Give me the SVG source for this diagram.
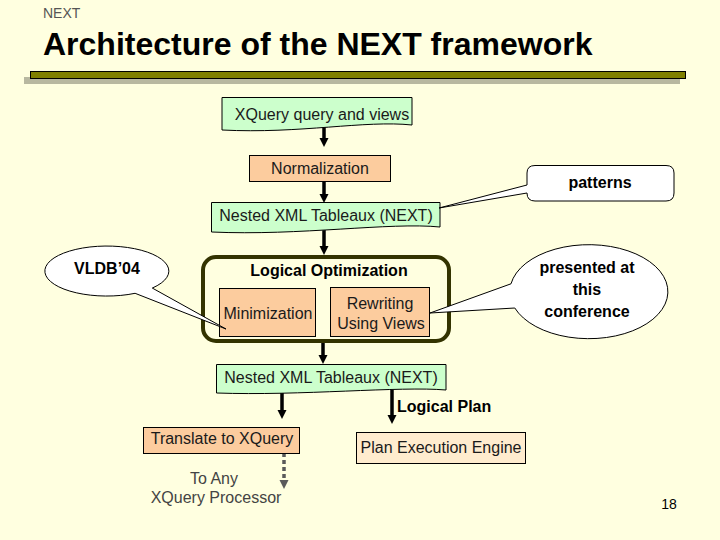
<svg xmlns="http://www.w3.org/2000/svg" width="720" height="540" viewBox="0 0 720 540">
<style>
text{font-family:"Liberation Sans",Arial,sans-serif;}
.t{font-size:16px;fill:#1a1a1a;text-anchor:middle;}
.b{font-size:16px;font-weight:bold;fill:#000;text-anchor:middle;}
.g{fill:#ccffcc;stroke:#000;stroke-width:1;}
.s{fill:#fccc9e;stroke:#000;stroke-width:1;}
.p{fill:#ffecce;stroke:#000;stroke-width:1;}
.c{fill:#fff;stroke:#000;stroke-width:1;}
.a{stroke:#000;stroke-width:3.5;fill:none;marker-end:url(#ah);}
.d{stroke:#5a5a5a;stroke-width:3.5;fill:none;stroke-dasharray:4 3;marker-end:url(#ahg);}
</style>
<defs>
<marker id="ah" markerUnits="userSpaceOnUse" viewBox="0 0 10 10" markerWidth="9" markerHeight="10" refX="0" refY="5" orient="auto"><path d="M0,0 L10,5 L0,10 Z" fill="#000"/></marker>
<marker id="ahg" markerUnits="userSpaceOnUse" viewBox="0 0 10 10" markerWidth="9" markerHeight="10" refX="0" refY="5" orient="auto"><path d="M0,0 L10,5 L0,10 Z" fill="#5a5a5a"/></marker>
</defs>
<rect width="720" height="540" fill="#ffffe0"/>
<g id="header">
<text x="43" y="18" style="font-size:14px;fill:#555">NEXT</text>
<text x="43" y="55" style="font-size:32px;font-weight:bold;fill:#000">Architecture of the NEXT framework</text>
<rect x="24" y="77" width="656" height="7" fill="#b8b8a0"/>
<rect x="30.5" y="71.5" width="655" height="7" fill="#808000" stroke="#000" stroke-width="1"/>
</g>
<g id="connectors">
<line class="a" x1="324" y1="126" x2="324" y2="138"/>
<line class="a" x1="324" y1="181" x2="324" y2="194"/>
<line class="a" x1="324" y1="230" x2="324" y2="246"/>
<line class="a" x1="323" y1="342" x2="323" y2="355"/>
<line class="a" x1="282" y1="393" x2="282" y2="410"/>
<line class="a" x1="392" y1="390" x2="392" y2="415"/>
<line class="d" x1="284" y1="453" x2="284" y2="480"/>
</g>
<g id="n-xquery">
<path class="g" d="M222,97.5 H412 V125 C365,120 300,134 222,130 Z"/>
<text class="t" x="322" y="119.5">XQuery query and views</text>
</g>
<g id="n-normalization">
<rect class="s" x="249.5" y="155.5" width="141" height="26"/>
<text class="t" x="320" y="173.5">Normalization</text>
</g>
<g id="n-next1">
<path class="g" d="M211.5,202.5 H440 V227 C390,222 300,236 211.5,232 Z"/>
<text class="t" x="326" y="220.5">Nested XML Tableaux (NEXT)</text>
</g>
<g id="n-patterns">
<path class="c" d="M527,193 L439,208 L527,185 V173 Q527,165.5 535,165.5 H666 Q674,165.5 674,173 V193 Q674,201 666,201 H535 Q527,201 527,193 Z"/>
<text class="b" x="600" y="188">patterns</text>
</g>
<g id="n-logopt">
<rect x="203" y="257" width="246" height="84" rx="13" fill="none" stroke="#333300" stroke-width="4"/>
<text class="b" x="329" y="275.5">Logical Optimization</text>
</g>
<g id="n-minimization">
<rect class="s" x="219.5" y="288.5" width="96" height="48"/>
<text class="t" x="268" y="318.5">Minimization</text>
</g>
<g id="n-rewriting">
<rect class="s" x="330.5" y="287.5" width="99" height="49"/>
<text class="t" x="380" y="308.5">Rewriting</text>
<text class="t" x="381" y="328.5">Using Views</text>
</g>
<g id="n-vldb">
<path class="c" d="M135.1,293.3 L226,329 L152.3,288.05 A62,25 0 1 0 135.1,293.3 Z"/>
<text class="b" x="107" y="274">VLDB’04</text>
</g>
<g id="n-presented">
<path class="c" d="M514.8,308 L430,313 L511,283.8 A79,47 0 1 1 514.8,308 Z"/>
<text class="b" x="587" y="273">presented at</text>
<text class="b" x="587" y="295">this</text>
<text class="b" x="587" y="317">conference</text>
</g>
<g id="n-next2">
<path class="g" d="M216.5,364.5 H446 V390 C400,386 300,396 216.5,393 Z"/>
<text class="t" x="331" y="382.5">Nested XML Tableaux (NEXT)</text>
</g>
<g id="n-logicalplan">
<text x="397" y="411.5" style="font-size:16px;font-weight:bold;fill:#000">Logical Plan</text>
</g>
<g id="n-translate">
<rect class="s" x="143.5" y="427.5" width="156" height="26"/>
<text class="t" x="222" y="443.5">Translate to XQuery</text>
</g>
<g id="n-planexec">
<rect class="p" x="356.5" y="432.5" width="169" height="31"/>
<text class="t" x="441" y="452.5">Plan Execution Engine</text>
</g>
<g id="n-toany">
<text class="t" x="214" y="484" style="fill:#444">To Any</text>
<text class="t" x="216" y="503" style="fill:#444">XQuery Processor</text>
</g>
<g id="pagenum">
<text x="669" y="509" style="font-size:14px;fill:#000;text-anchor:middle">18</text>
</g>
</svg>
